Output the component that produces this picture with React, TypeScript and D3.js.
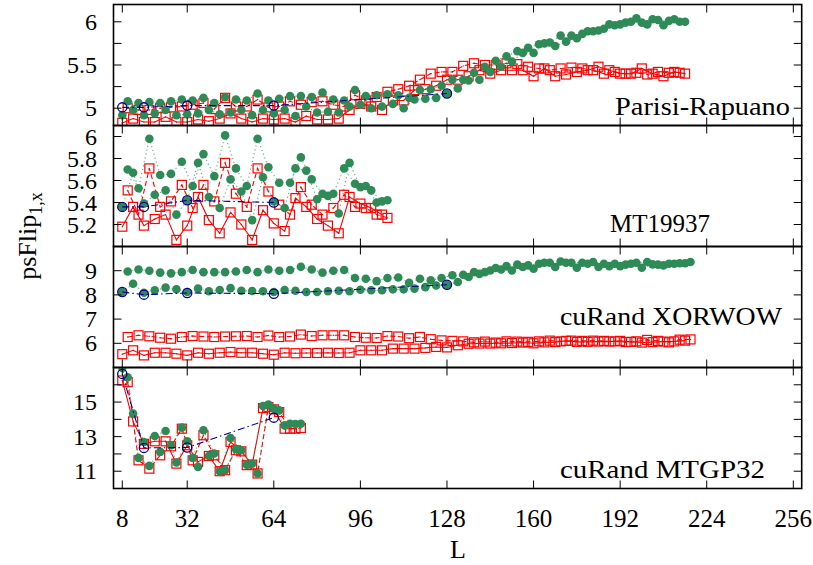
import React from 'react';
import * as d3 from 'd3';

const W = 813;
const H = 565;
const FONT = 'Liberation Serif';

const X_TICKS = [8, 32, 64, 96, 128, 160, 192, 224, 256];
const BLUE_L = [8, 16, 32, 64, 128];

// ---------- Parisi-Rapuano (L = 8,10,...,216) ----------
const PR_GREEN = [4.92, 5.08, 4.98, 5.06, 4.92, 5.07, 4.94, 5.06, 4.98, 5.08, 4.92, 5.10, 4.93, 5.09, 4.94, 5.12, 4.98, 5.06, 4.93, 5.13,
  4.95, 5.10, 4.98, 5.09, 4.92, 5.17, 4.98, 5.09, 4.94, 5.11, 4.98, 5.14, 4.91, 5.14, 5.02, 5.13, 4.95, 5.18, 4.96, 5.10,
  4.95, 5.09, 5.02, 5.21, 5.04, 5.14, 5.00, 5.15, 5.02, 5.16, 5.05, 5.15, 5.00, 5.12, 5.10, 5.21, 5.11, 5.22, 5.12, 5.26,
  5.17, 5.33, 5.23, 5.33, 5.32, 5.41, 5.33, 5.48, 5.42, 5.55, 5.48, 5.60, 5.54, 5.66, 5.64, 5.70, 5.64, 5.74, 5.75, 5.76,
  5.72, 5.84, 5.77, 5.84, 5.81, 5.86, 5.89, 5.89, 5.90, 5.92, 5.97, 5.96, 5.97, 5.99, 6.00, 6.04, 5.99, 5.97, 6.03, 6.02,
  5.96, 6.01, 6.03, 6.00, 6.00];
const PR_RED = [4.83, 5.00, 4.88, 4.98, 4.84, 4.98, 4.84, 5.00, 4.90, 5.01, 4.84, 5.02, 4.84, 5.04, 4.87, 5.06, 4.85, 4.99, 4.88, 5.12,
  4.94, 5.02, 4.88, 5.02, 4.84, 5.10, 4.88, 5.01, 4.87, 5.02, 4.88, 5.08, 4.84, 5.04, 4.91, 5.07, 4.87, 5.08, 4.87, 5.04,
  4.88, 5.02, 4.98, 5.15, 5.05, 5.09, 5.02, 5.13, 4.98, 5.19, 5.09, 5.22, 5.09, 5.26, 5.21, 5.33, 5.22, 5.40, 5.26, 5.42,
  5.33, 5.42, 5.33, 5.49, 5.37, 5.52, 5.44, 5.50, 5.40, 5.50, 5.44, 5.52, 5.44, 5.51, 5.44, 5.48, 5.37, 5.46, 5.46, 5.44,
  5.37, 5.46, 5.39, 5.47, 5.42, 5.46, 5.44, 5.44, 5.48, 5.40, 5.44, 5.42, 5.40, 5.40, 5.40, 5.41, 5.46, 5.39, 5.40, 5.42,
  5.37, 5.41, 5.42, 5.41, 5.40];
const PR_BLUE = [5.01, 5.01, 5.03, 5.03, 5.17];

// ---------- MT19937 (L = 8,10,...,106) ----------
const MT_GREEN = [5.36, 5.70, 5.67, 5.53, 5.39, 5.98, 5.47, 5.65, 5.51, 5.66, 5.29, 5.77, 5.42, 5.55, 5.76, 5.84, 5.45, 5.64, 5.35, 6.01,
  5.61, 5.71, 5.50, 5.55, 5.24, 5.98, 5.63, 5.72, 5.41, 5.58, 5.35, 5.58, 5.71, 5.81, 5.69, 5.61, 5.43, 5.48, 5.46, 5.48,
  5.30, 5.71, 5.76, 5.57, 5.54, 5.55, 5.51, 5.40, 5.41, 5.42];
const MT_RED = [5.18, 5.51, 5.36, 5.29, 5.19, 5.71, 5.25, 5.36, 5.29, 5.41, 5.06, 5.56, 5.19, 5.35, 5.45, 5.56, 5.24, 5.41, 5.12, 5.76,
  5.31, 5.48, 5.20, 5.36, 5.06, 5.71, 5.33, 5.50, 5.21, 5.38, 5.14, 5.29, 5.44, 5.54, 5.36, 5.38, 5.25, 5.29, 5.19, 5.35,
  5.12, 5.47, 5.45, 5.36, 5.39, 5.35, 5.35, 5.29, 5.29, 5.26];
const MT_BLUE = [5.36, 5.36, 5.42, 5.40];

// ---------- cuRand XORWOW (L = 8,10,...,218) ----------
const XO_GREEN = [8.12, 8.97, 8.46, 9.05, 8.09, 9.00, 8.19, 8.92, 8.30, 8.89, 8.23, 8.94, 8.12, 9.03, 8.26, 8.94, 8.15, 8.94, 8.20, 8.94,
  8.28, 8.97, 8.17, 9.03, 8.16, 8.94, 8.15, 9.05, 8.12, 9.00, 8.20, 9.03, 8.17, 9.16, 8.12, 9.05, 8.12, 8.92, 8.15, 9.00,
  8.17, 9.03, 8.15, 8.70, 8.21, 8.67, 8.19, 8.57, 8.19, 8.70, 8.23, 8.72, 8.23, 8.50, 8.26, 8.67, 8.32, 8.60, 8.39, 8.70,
  8.42, 8.81, 8.53, 8.83, 8.74, 8.94, 8.87, 8.94, 9.01, 9.11, 9.05, 9.19, 9.01, 9.25, 9.15, 9.22, 9.08, 9.29, 9.33, 9.33,
  9.15, 9.38, 9.33, 9.33, 9.12, 9.33, 9.29, 9.36, 9.15, 9.29, 9.19, 9.29, 9.19, 9.25, 9.29, 9.33, 9.12, 9.36, 9.26, 9.25,
  9.22, 9.29, 9.29, 9.31, 9.31, 9.36];
const XO_RED = [5.55, 6.26, 5.71, 6.33, 5.50, 6.29, 5.61, 6.23, 5.61, 6.19, 5.57, 6.26, 5.50, 6.30, 5.61, 6.28, 5.57, 6.26, 5.61, 6.28,
  5.64, 6.29, 5.61, 6.30, 5.61, 6.26, 5.57, 6.32, 5.53, 6.26, 5.61, 6.28, 5.59, 6.36, 5.60, 6.30, 5.60, 6.33, 5.61, 6.33,
  5.60, 6.33, 5.61, 6.26, 5.71, 6.23, 5.71, 6.22, 5.71, 6.30, 5.78, 6.28, 5.78, 6.21, 5.78, 6.26, 5.81, 6.17, 5.85, 6.12,
  5.83, 6.10, 5.92, 6.08, 5.98, 6.04, 5.99, 6.07, 5.99, 6.03, 6.00, 6.08, 6.01, 6.07, 6.03, 6.06, 6.00, 6.08, 6.04, 6.11,
  6.05, 6.08, 6.10, 6.11, 6.06, 6.10, 6.06, 6.11, 6.07, 6.10, 6.07, 6.08, 6.10, 6.05, 6.06, 6.08, 6.03, 6.14, 6.05, 6.10,
  6.07, 6.04, 6.08, 6.15, 6.11, 6.16];
const XO_BLUE = [8.12, 8.01, 8.08, 8.05, 8.42];

// ---------- cuRand MTGP32 (L = 8,10,...,74) ----------
const MG_GREEN = [16.98, 16.44, 14.33, 11.77, 12.69, 11.31, 13.04, 12.12, 13.33, 12.5, 11.5, 13.52, 12.73, 11.77, 11.25, 13.37, 11.88,
  12.02, 11.0, 11.06, 12.92, 12.27, 12.21, 11.38, 11.44, 10.87, 14.77, 14.85, 14.62, 14.52, 13.65, 13.75, 13.73, 13.75];
const MG_RED = [16.25, 16.15, 13.88, 11.63, 12.58, 11.15, 12.73, 11.92, 12.73, 12.44, 11.44, 13.46, 12.5, 11.63, 11.54, 13.08, 11.88,
  11.92, 11.0, 11.06, 12.69, 12.21, 12.15, 11.35, 11.38, 10.87, 14.65, 14.71, 14.58, 14.42, 13.46, 13.46, 13.46, 13.5];
const MG_BLUE = [16.63, 12.35, 12.37, 14.1];

const PR_TICKS = [5, 5.25, 5.5, 5.75, 6];
const PR_LABELS = [5, 5.5, 6];
const MT_TICKS = [5.2, 5.4, 5.6, 5.8, 6];
const XO_TICKS = [6, 7, 8, 9];
const MG_TICKS = [11, 12, 13, 14, 15, 16];
const MG_LABELS = [11, 13, 15];

const X0 = 113.5;
const X1 = 801.7;
const PANEL_H = 121;
const TOP = 4.5;

const x = d3.scaleLinear().domain([4.75, 259.1]).range([X0, X1]);

const withL = (vals: number[], Ls?: number[]) => vals.map((v, i) => [Ls ? Ls[i] : 8 + 2 * i, v] as [number, number]);

const panels = [
  { name: 'Parisi-Rapuano', domain: [4.8, 6.2], ticks: PR_TICKS, labels: PR_LABELS, fmt: (v: number) => String(v),
    green: PR_GREEN, red: PR_RED, blue: PR_BLUE, label: { x: 615, y: 115, w: 175 } },
  { name: 'MT19937', domain: [5.0, 6.1], ticks: MT_TICKS, labels: MT_TICKS, fmt: (v: number) => (v === 6 ? '6' : v.toFixed(1)),
    green: MT_GREEN, red: MT_RED, blue: MT_BLUE, label: { x: 610, y: 232, w: 100 } },
  { name: 'cuRand XORWOW', domain: [5, 10], ticks: XO_TICKS, labels: XO_TICKS, fmt: (v: number) => String(v),
    green: XO_GREEN, red: XO_RED, blue: XO_BLUE, label: { x: 560, y: 325, w: 222 } },
  { name: 'cuRand MTGP32', domain: [10, 17], ticks: MG_TICKS, labels: MG_LABELS, fmt: (v: number) => String(v),
    green: MG_GREEN, red: MG_RED, blue: MG_BLUE, label: { x: 560, y: 478, w: 205 } },
];

const RED = '#ff0000';
const GREEN = '#2e8b57';
const BLUE = '#00008b';

function Panel({ p, idx }: { p: any; idx: number }) {
  const top = TOP + idx * PANEL_H;
  const bottom = top + PANEL_H;
  const y = d3.scaleLinear().domain(p.domain).range([bottom, top]);
  const line = d3.line<[number, number]>().x(d => x(d[0])).y(d => y(d[1]));
  const green = withL(p.green);
  const red = withL(p.red);
  const blue = withL(p.blue, BLUE_L.slice(0, p.blue.length));
  const g0 = green.filter(d => d[0] % 4 === 0);
  const g2 = green.filter(d => d[0] % 4 === 2);
  const r0 = red.filter(d => d[0] % 4 === 0);
  const r2 = red.filter(d => d[0] % 4 === 2);
  const clipId = `clip${idx}`;
  const T = 8;
  return (
    <g>
      <defs>
        <clipPath id={clipId}>
          <rect x={X0} y={top} width={X1 - X0} height={PANEL_H} />
        </clipPath>
      </defs>
      <g clipPath={`url(#${clipId})`}>
        <path d={line(r0) || ''} fill="none" stroke={RED} strokeWidth={1.1} />
        <path d={line(r2) || ''} fill="none" stroke={RED} strokeWidth={1.1} strokeDasharray="5,3" />
        {red.map((d, i) => (
          <g key={'r' + i}>
            <rect x={x(d[0]) - 4.5} y={y(d[1]) - 4.5} width={9} height={9} fill="none" stroke={RED} strokeWidth={1.2} />
            <circle cx={x(d[0])} cy={y(d[1])} r={0.7} fill={RED} />
          </g>
        ))}
        <path d={line(g0) || ''} fill="none" stroke={GREEN} strokeOpacity={0.7} strokeWidth={1.2} strokeDasharray="1.2,2.8" />
        <path d={line(g2) || ''} fill="none" stroke={GREEN} strokeOpacity={0.7} strokeWidth={1.2} strokeDasharray="1.2,2.8" />
        {green.map((d, i) => (
          <circle key={'g' + i} cx={x(d[0])} cy={y(d[1])} r={4.3} fill={GREEN} />
        ))}
        <path d={line(blue) || ''} fill="none" stroke={BLUE} strokeWidth={1.1} strokeDasharray="7,3,1.5,3" />
        {blue.map((d, i) => (
          <circle key={'b' + i} cx={x(d[0])} cy={y(d[1])} r={4.6} fill="none" stroke={BLUE} strokeWidth={1.3} />
        ))}
      </g>
      {p.ticks.map((t: number) => (
        <g key={'yt' + t}>
          <line x1={X0} x2={X0 + T} y1={y(t)} y2={y(t)} stroke="#000" strokeWidth={1} />
          <line x1={X1 - T} x2={X1} y1={y(t)} y2={y(t)} stroke="#000" strokeWidth={1} />
        </g>
      ))}
      {p.labels.map((t: number) => (
        <text key={'yl' + t} x={97} y={y(t) + 8} textAnchor="end" fontFamily={FONT} fontSize={24} fill="#000">
          {p.fmt(t)}
        </text>
      ))}
      {X_TICKS.map(t => (
        <g key={'xt' + t}>
          <line x1={x(t)} x2={x(t)} y1={top} y2={top + T} stroke="#000" strokeWidth={1} />
          <line x1={x(t)} x2={x(t)} y1={bottom - T} y2={bottom} stroke="#000" strokeWidth={1} />
        </g>
      ))}
      <rect x={X0} y={top} width={X1 - X0} height={PANEL_H} fill="none" stroke="#000" strokeWidth={1.6} />
      <text x={p.label.x} y={p.label.y} fontFamily={FONT} fontSize={26} fill="#000"
        textLength={p.label.w} lengthAdjust="spacingAndGlyphs">
        {p.name}
      </text>
    </g>
  );
}

export default function App() {
  const bottom = TOP + 4 * PANEL_H;
  return (
    <svg width={W} height={H} viewBox={`0 0 ${W} ${H}`} style={{ position: 'absolute', left: 0, top: 0, background: '#fff' }}>
      <rect x={0} y={0} width={W} height={H} fill="#fff" />
      {panels.map((p, i) => (
        <Panel key={p.name} p={p} idx={i} />
      ))}
      {X_TICKS.map(t => (
        <text key={'xl' + t} x={x(t)} y={bottom + 38} textAnchor="middle" fontFamily={FONT} fontSize={25} fill="#000">
          {t}
        </text>
      ))}
      <text x={458} y={558} textAnchor="middle" fontFamily={FONT} fontSize={26} fill="#000">L</text>
      <text transform="translate(36,236) rotate(-90)" textAnchor="middle" fontFamily={FONT} fontSize={26} fill="#000">
        psFlip<tspan fontSize={18} dy={6}>1,x</tspan>
      </text>
    </svg>
  );
}
